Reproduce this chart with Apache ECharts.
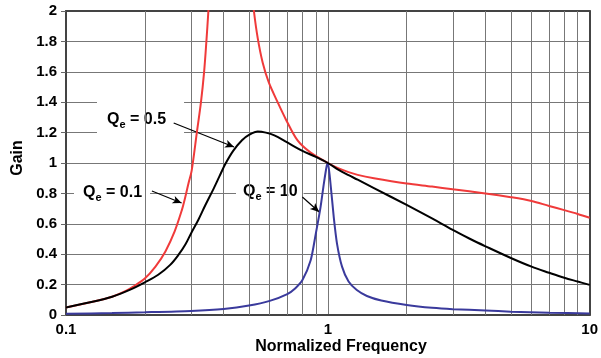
<!DOCTYPE html>
<html>
<head>
<meta charset="utf-8">
<script src="https://cdn.jsdelivr.net/npm/echarts@6/dist/echarts.min.js"></script>
<style>
html,body{margin:0;padding:0;background:#fff;}
#c{width:601px;height:358px;}
</style>
</head>
<body>
<div id="c"></div>
<script>
// ---- data ----
const freqRed = [0.1,0.125,0.15,0.17,0.18,0.2,0.22,0.24,0.26,0.277,0.2837,0.294,0.302,0.316,0.3277,0.3369,0.3437,0.3498,0.36,0.38,0.42,0.47,0.5,0.522,0.54,0.564,0.595,0.643,0.69,0.765,0.857,1.0,1.1,1.2,1.3,1.5,2,2.5,3,4,5,6,7,8,9,10];
const gainRed = [0.05,0.085,0.12,0.16,0.185,0.24,0.32,0.42,0.55,0.69,0.757,0.87,0.95,1.2,1.4,1.6,1.8,2.0,2.35,3.5,4.0,3.0,2.3,2.0,1.82,1.66,1.53,1.40,1.29,1.15,1.07,1.0,0.965,0.94,0.922,0.9,0.865,0.845,0.827,0.8,0.775,0.75,0.717,0.69,0.665,0.64];

const freqBlack = [0.1,0.125,0.15,0.175,0.2,0.225,0.25,0.27,0.286,0.3,0.32,0.34,0.366,0.385,0.405,0.435,0.47,0.5,0.54,0.58,0.625,0.7,0.8,0.9,1.0,1.1,1.2,1.3,1.5,2,2.5,3,3.5,4,5,6,7,8,9,10];
const gainBlack = [0.05,0.085,0.12,0.165,0.215,0.265,0.33,0.4,0.465,0.535,0.625,0.72,0.83,0.91,0.99,1.08,1.15,1.185,1.207,1.2,1.182,1.135,1.08,1.04,1.0,0.955,0.92,0.89,0.835,0.724,0.635,0.56,0.5,0.452,0.375,0.318,0.278,0.245,0.22,0.198];

const freqBlue = [0.1,0.15,0.2,0.3,0.4,0.5,0.6,0.7,0.75,0.8,0.86,0.9,0.938,0.966,0.99,1.0,1.023,1.053,1.084,1.133,1.2,1.29,1.41,1.6,2,2.5,3,4,5,7,10];
const gainBlue = [0.008,0.013,0.018,0.027,0.04,0.062,0.093,0.138,0.175,0.23,0.36,0.537,0.71,0.866,0.98,1.0,0.87,0.647,0.47,0.318,0.22,0.164,0.125,0.095,0.066,0.047,0.038,0.03,0.022,0.015,0.01];

const xMinorGrid = [0.2,0.3,0.4,0.5,0.6,0.7,0.8,0.9,2,3,4,5,6,7,8,9];

// annotation labels and arrows (data coordinates)
const labels = [
  {q: 'Q', s: 'e', t: ' = 0.5'},
  {q: 'Q', s: 'e', t: ' = 0.1'},
  {q: 'Q', s: 'e', t: ' = 10'}
];
const arrows = [
  [[0.2578, 1.263], [0.4385, 1.105]],
  [[0.2129, 0.816], [0.2764, 0.737]],
  [[0.7995, 0.776], [0.927, 0.678]]
];

const FONT = 'Arial, "Liberation Sans", Helvetica, sans-serif';
const GRID = '#777';
const zip = (a, b) => a.map((v, i) => [v, b[i]]);

const chart = echarts.init(document.getElementById('c'), null, {renderer: 'canvas'});

const richStyle = {
  q: {fontSize: 16, fontWeight: 'bold', fontFamily: FONT, color: '#000', lineHeight: 20, verticalAlign: 'middle'},
  s: {fontSize: 11, fontWeight: 'bold', fontFamily: FONT, color: '#000', lineHeight: 10, verticalAlign: 'bottom'}
};
function labelText(l) { return '{q|' + l.q + '}{s|' + l.s + '}{q|' + l.t + '}'; }

const frameAxis = {
  axisLine: {show: true, onZero: false, lineStyle: {color: '#444', width: 2}},
  axisTick: {show: false}, axisLabel: {show: false}, splitLine: {show: false}
};

const option = {
  animation: false,
  backgroundColor: '#fff',
  grid: {left: 66, right: 6, top: 11, bottom: 43},
  xAxis: [{
    type: 'log', logBase: 10, min: 0.1, max: 10,
    axisLine: {show: true, onZero: false, lineStyle: {color: '#444', width: 2}},
    axisTick: {show: false},
    axisLabel: {
      margin: 7, color: '#000', fontSize: 15, fontWeight: 'bold', fontFamily: FONT,
      formatter: v => String(+Number(v).toPrecision(3))
    },
    splitLine: {show: true, lineStyle: {color: GRID, width: 1}}
  }, Object.assign({type: 'log', logBase: 10, min: 0.1, max: 10, position: 'top'}, frameAxis)],
  yAxis: [{
    type: 'value', min: 0, max: 2, interval: 0.2,
    axisLine: {show: true, onZero: false, lineStyle: {color: '#444', width: 2}},
    axisTick: {show: true, length: 5, lineStyle: {color: '#666'}},
    axisLabel: {margin: 9, color: '#000', fontSize: 15, fontWeight: 'bold', fontFamily: FONT},
    splitLine: {show: true, lineStyle: {color: GRID, width: 1}}
  }, Object.assign({type: 'value', min: 0, max: 2, interval: 0.2, position: 'right'}, frameAxis)],
  graphic: [
    {type: 'text', x: 341, y: 347, z: 5, style: {text: 'Normalized Frequency', fill: '#000', font: 'bold 16px ' + FONT, align: 'center', verticalAlign: 'middle'}},
    {type: 'text', x: 18, y: 158, rotation: Math.PI / 2, z: 5, style: {text: 'Gain', fill: '#000', font: 'bold 16px ' + FONT, align: 'center', verticalAlign: 'middle'}},
    {type: 'text', x: 97, y: 120, z: 5, style: {text: labelText(labels[0]), rich: richStyle, backgroundColor: '#fff', padding: [10, 18, 10, 10], align: 'left', verticalAlign: 'middle'}},
    {type: 'text', x: 74, y: 193, z: 5, style: {text: labelText(labels[1]), rich: richStyle, backgroundColor: '#fff', padding: [8, 8, 8, 9], align: 'left', verticalAlign: 'middle'}},
    {type: 'text', x: 236, y: 192, z: 5, style: {text: labelText(labels[2]), rich: richStyle, backgroundColor: '#fff', padding: [8, 6, 8, 7], align: 'left', verticalAlign: 'middle'}}
  ],
  series: [
    {
      type: 'line', data: [], z: 1, silent: true,
      markLine: {
        silent: true, symbol: ['none', 'none'], label: {show: false},
        lineStyle: {color: GRID, width: 1, type: 'solid'},
        data: xMinorGrid.map(v => ({xAxis: v}))
      }
    },
    {type: 'line', name: 'Qe=0.1', data: zip(freqRed, gainRed), showSymbol: false, symbol: 'none', z: 10, smooth: 0.3,
     lineStyle: {color: '#f03a3a', width: 2}, clip: true},
    {type: 'line', name: 'Qe=0.5', data: zip(freqBlack, gainBlack), showSymbol: false, symbol: 'none', z: 11, smooth: 0.35,
     lineStyle: {color: '#000', width: 2}, clip: true},
    {type: 'line', name: 'Qe=10', data: zip(freqBlue, gainBlue), showSymbol: false, symbol: 'none', z: 10, smooth: 0.25,
     lineStyle: {color: '#3a3a9c', width: 2}, clip: true},
    {
      type: 'line', data: [], z: 12, silent: true,
      markLine: {
        silent: true, symbol: ['none', 'arrow'], symbolSize: [6, 9], label: {show: false},
        lineStyle: {color: '#000', width: 1.2, type: 'solid'},
        data: arrows.map(a => [{coord: a[0]}, {coord: a[1]}])
      }
    }
  ]
};
chart.setOption(option);
</script>
</body>
</html>
